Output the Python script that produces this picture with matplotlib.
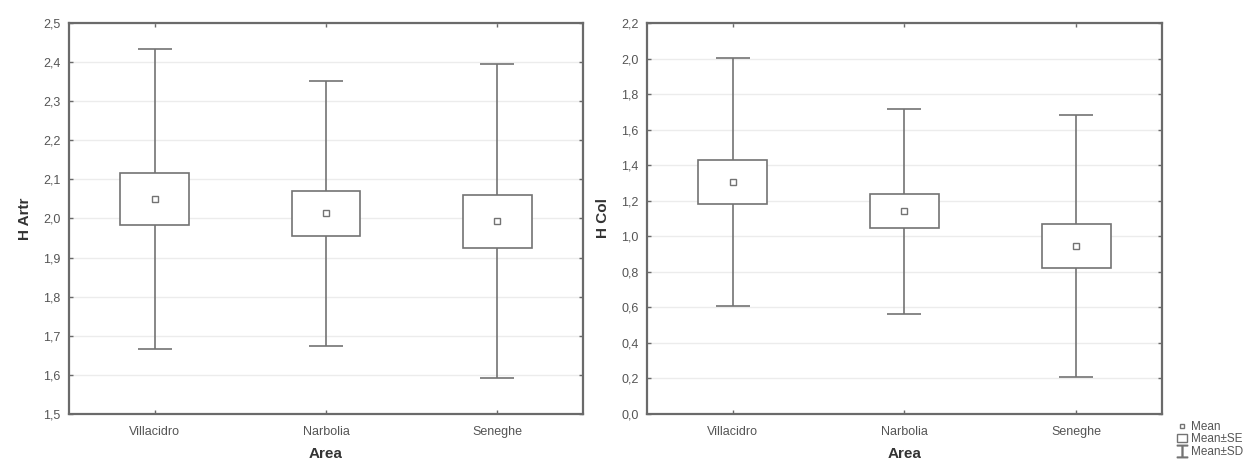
import numpy as np
import matplotlib
matplotlib.use('Agg')
import matplotlib.pyplot as plt
from matplotlib.patches import Rectangle, Patch
from matplotlib.lines import Line2D
from matplotlib.ticker import FuncFormatter, MultipleLocator

# data (mean, SE, SD per area)
areas = ['Villacidro', 'Narbolia', 'Seneghe']

artr_mean = [2.050, 2.013, 1.993]
artr_se = [0.067, 0.057, 0.068]
artr_sd = [0.384, 0.338, 0.402]

col_mean = [1.305, 1.140, 0.946]
col_se = [0.123, 0.095, 0.124]
col_sd = [0.700, 0.575, 0.737]

LINE = '#737373'
SPINE = '#6a6a6a'
TXT = '#555555'

plt.rcParams['font.family'] = ['Liberation Sans', 'DejaVu Sans']

fig = plt.figure(figsize=(12.5, 4.65), dpi=100)
ax1 = fig.add_axes([0.0552, 0.1097, 0.4112, 0.8409])
ax2 = fig.add_axes([0.5176, 0.1097, 0.4120, 0.8409])


def comma(v, pos):
    return f"{v:.1f}".replace('.', ',')


def draw(ax, mean, se, sd, ylim, step, ylabel):
    x = np.arange(1, len(areas) + 1)
    ax.errorbar(x, mean, yerr=sd, fmt='none', ecolor=LINE, elinewidth=1.2,
                capsize=12, capthick=1.2, zorder=2)
    for xi, m, s in zip(x, mean, se):
        ax.add_patch(Rectangle((xi - 0.2, m - s), 0.4, 2 * s, facecolor='white',
                               edgecolor=LINE, linewidth=1.2, zorder=3))
    ax.plot(x, mean, linestyle='none', marker='s', markersize=4.5,
            markerfacecolor='white', markeredgecolor=LINE, markeredgewidth=1.0,
            zorder=4)
    ax.set_xlim(0.5, 3.5)
    ax.set_ylim(*ylim)
    ax.set_xticks(x)
    ax.set_xticklabels(areas)
    ax.yaxis.set_major_locator(MultipleLocator(step))
    ax.yaxis.set_major_formatter(FuncFormatter(comma))
    ax.grid(axis='y', color='#ececec', linewidth=1.0, zorder=0)
    ax.set_axisbelow(True)
    ax.tick_params(direction='in', length=3, width=1, color=SPINE,
                   labelsize=9, labelcolor=TXT, top=True, right=True)
    ax.tick_params(axis='x', pad=9)
    ax.tick_params(axis='y', pad=6)
    for sp in ax.spines.values():
        sp.set_color(SPINE)
        sp.set_linewidth(1.6)
    ax.set_xlabel('Area', fontsize=11, fontweight='bold', color='#333333',
                  labelpad=6)
    ax.set_ylabel(ylabel, fontsize=11, fontweight='bold', color='#333333',
                  labelpad=8)


draw(ax1, artr_mean, artr_se, artr_sd, (1.5, 2.5), 0.1, 'H Artr')
draw(ax2, col_mean, col_se, col_sd, (0.0, 2.2), 0.2, 'H Col')

handles = [
    Line2D([], [], linestyle='none', marker='s', markersize=3.5,
           markerfacecolor='white', markeredgecolor=LINE),
    Patch(facecolor='white', edgecolor=LINE, linewidth=1.0),
    Line2D([], [], linestyle='none', marker='$\u2336$', markersize=9,
           color=LINE),
]
fig.legend(handles, ['Mean', 'Mean\u00b1SE', 'Mean\u00b1SD'],
           loc='lower right', bbox_to_anchor=(1.0, 0.0), frameon=False,
           fontsize=8.5, labelcolor=TXT, handlelength=0.9, handletextpad=0.3,
           labelspacing=0.05, borderaxespad=0.2)

fig.savefig('out.png', dpi=100, facecolor='white')
